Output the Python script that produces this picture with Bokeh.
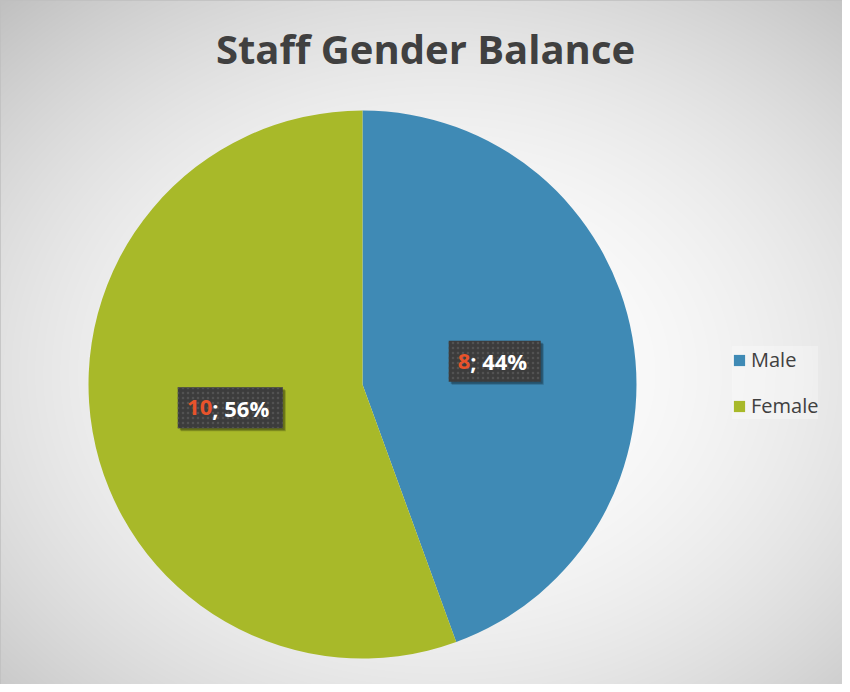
import numpy as np
from bokeh.plotting import figure
from bokeh.models import Range1d, Legend, LegendItem, ColumnDataSource
from bokeh.core.properties import value
from bokeh.embed import file_html
from bokeh.resources import INLINE

# ---- data ----
categories = ["Male", "Female"]
counts = [8, 10]
colors = ["#3F8AB5", "#A8B929"]
title_text = "Staff Gender Balance"

W, H = 842, 684
p = figure(width=W, height=H, output_backend="svg", toolbar_location=None,
           x_range=Range1d(0, W), y_range=Range1d(0, H),
           x_axis_type=None, y_axis_type=None, min_border=0,
           outline_line_color="#BFBFBF", outline_line_width=1.5)
p.grid.visible = False
p.background_fill_color = "#FFFFFF"
p.border_fill_color = "#FFFFFF"

# ---- background radial gradient (style only) ----
yy, xx = np.mgrid[0:H, 0:W]
cx, cy = 440, 372
d2 = ((xx - cx) / 430.0) ** 2 + ((yy - cy) / 340.0) ** 2
v = np.clip(255 - 28 * d2, 185, 255).astype(np.uint32)
img = (255 << 24) | (v << 16) | (v << 8) | v
img = np.flipud(img).astype(np.uint32)
p.image_rgba(image=[img], x=0, y=0, dw=W, dh=H)

# ---- pie ----
pcx, pcy, R = 362, 300, 274
total = sum(counts)
fracs = [c / total for c in counts]
starts, ends, mids = [], [], []
acc = 0.0
for f in fracs:
    s = np.pi / 2 - 2 * np.pi * acc
    e = np.pi / 2 - 2 * np.pi * (acc + f)
    starts.append(s)
    ends.append(e)
    mids.append((s + e) / 2)
    acc += f

src = ColumnDataSource(dict(start=starts, end=ends, color=colors, cat=categories))
p.wedge(x=pcx, y=pcy, radius=R, start_angle="start", end_angle="end",
        direction="clock", fill_color="color", line_color=None, source=src)

# ---- data labels ----
for c, f, m in zip(counts, fracs, mids):
    lx = pcx + 0.49 * R * np.cos(m)
    ly = pcy + 0.49 * R * np.sin(m)
    num = str(c)
    rest = "; %d%%" % round(f * 100)
    bw = 92 if len(num) == 1 else 105
    bh = 41
    p.rect(x=lx + 3, y=ly - 3, width=bw, height=bh, fill_color="black",
           fill_alpha=0.2, line_color=None)
    p.rect(x=lx + 2, y=ly - 2, width=bw, height=bh, fill_color="black",
           fill_alpha=0.25, line_color=None)
    p.rect(x=lx, y=ly, width=bw, height=bh, fill_color="#3C3C3C",
           line_color=None, hatch_pattern="dot", hatch_color="#525252",
           hatch_scale=5, hatch_weight=1.5)
    nw = 13 * len(num)
    total_w = nw + 62
    split = lx - total_w / 2 + nw
    p.text(x=[split], y=[ly], text=[num], text_align="right",
           text_baseline="middle", text_color="#E8532B",
           text_font=value("Open Sans"), text_font_style="bold",
           text_font_size="22px")
    p.text(x=[split], y=[ly], text=[rest], text_align="left",
           text_baseline="middle", text_color="#FFFFFF",
           text_font=value("Open Sans"), text_font_style="bold",
           text_font_size="22px")

# ---- title ----
p.text(x=[425], y=[636], text=[title_text], text_align="center",
       text_baseline="middle", text_color="#404040",
       text_font=value("Open Sans"), text_font_style="bold",
       text_font_size="40px")

# ---- legend ----
items = []
for cat, col in zip(categories, colors):
    r = p.rect(x=[np.nan], y=[np.nan], width=1, height=1, fill_color=col,
               line_color=None)
    items.append(LegendItem(label=cat, renderers=[r]))
legend = Legend(items=items, location=(732, 265), orientation="vertical",
                glyph_width=14, glyph_height=14, label_height=24,
                spacing=19, padding=12, margin=0, label_standoff=5,
                label_text_font="Open Sans", label_text_font_size="20px",
                label_text_color="#404040",
                background_fill_color="#FFFFFF", background_fill_alpha=0.3,
                border_line_color=None)
p.add_layout(legend)

open("out.html", "w").write(file_html(p, INLINE))
